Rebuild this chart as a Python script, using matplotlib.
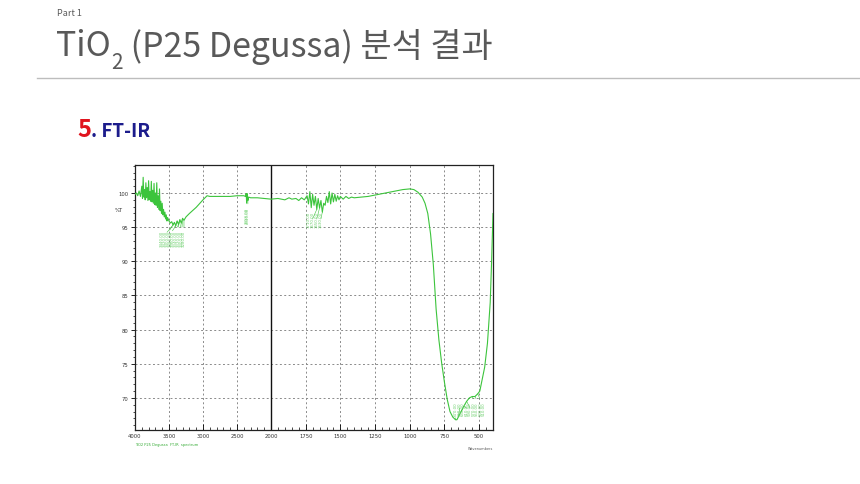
import numpy as np
import matplotlib
matplotlib.use("Agg")
import matplotlib.pyplot as plt
from matplotlib.ticker import FixedLocator, NullFormatter

# ---------------- data ----------------
wn_high = [4000, 3980, 3960, 3940, 3920, 3900, 3890, 3880, 3870, 3860, 3850, 3840,
           3830, 3820, 3810, 3800, 3790, 3780, 3770, 3760, 3750, 3740, 3730, 3720,
           3710, 3700, 3690, 3680, 3670, 3660, 3650, 3640, 3630, 3620, 3610, 3600,
           3590, 3580, 3570, 3560, 3550, 3540, 3530, 3520, 3500, 3480, 3460, 3440,
           3420, 3400, 3380, 3360, 3340, 3320, 3300, 3280, 3250, 3200, 3100, 3000,
           2940, 2900, 2800, 2700, 2600, 2500, 2400, 2375, 2365, 2358, 2350, 2340,
           2330, 2300, 2200, 2100]
t_high = [99.8, 100.0, 99.6, 100.3, 99.5, 101.0, 99.2, 102.3, 99.4, 100.5, 99.0, 101.5,
          99.3, 100.8, 98.9, 101.8, 99.0, 100.2, 98.8, 101.7, 98.7, 100.4, 98.5, 101.4,
          98.3, 100.0, 98.2, 101.5, 97.9, 99.6, 97.6, 100.6, 97.4, 98.8, 97.0, 98.5,
          96.8, 97.6, 96.5, 97.2, 96.2, 96.8, 95.9, 96.4, 95.9, 95.6, 95.8, 95.3,
          95.7, 95.2, 95.9, 95.4, 96.1, 95.6, 96.3, 96.0, 96.5, 97.0, 97.9, 99.0,
          99.6, 99.5, 99.5, 99.5, 99.5, 99.6, 99.6, 99.5, 99.9, 98.6, 99.9, 98.9,
          99.4, 99.3, 99.3, 99.2]
wn_low = [2000, 1950, 1900, 1870, 1850, 1820, 1800, 1780, 1760, 1740, 1730, 1720,
          1710, 1700, 1690, 1680, 1670, 1660, 1650, 1640, 1630, 1620, 1610, 1600,
          1590, 1580, 1570, 1560, 1550, 1540, 1530, 1520, 1510, 1500, 1480, 1460,
          1440, 1420, 1400, 1350, 1300, 1250, 1200, 1150, 1100, 1050, 1000, 970,
          940, 910, 890, 870, 850, 830, 810, 790, 770, 750, 730, 710, 690, 670, 660,
          650, 630, 610, 590, 570, 550, 530, 510, 495, 480, 460, 440, 420, 410, 400]
t_low = [99.1, 99.2, 99.0, 99.3, 99.1, 99.2, 98.9, 99.3, 99.0, 99.6, 98.4, 100.2,
         97.9, 99.8, 98.2, 99.5, 97.6, 99.2, 97.8, 98.9, 97.2, 98.5, 98.2, 99.5,
         98.6, 100.2, 98.4, 100.0, 98.7, 99.8, 98.8, 99.6, 99.0, 99.5, 99.1, 99.5,
         99.2, 99.4, 99.3, 99.4, 99.5, 99.7, 99.9, 100.1, 100.3, 100.5, 100.6, 100.5,
         100.1, 99.4, 98.5, 97.0, 94.0, 89.5, 83.0, 78.5, 75.1, 72.3, 69.8, 68.0, 67.2,
         66.8, 66.8, 67.2, 68.0, 68.8, 69.5, 70.0, 70.2, 70.2, 70.6, 71.0, 72.5, 74.5,
         78.0, 84.0, 90.0, 97.0]

x_ticks = [4000, 3500, 3000, 2500, 2000, 1750, 1500, 1250, 1000, 750, 500]
y_ticks = [70, 75, 80, 85, 90, 95, 100]

# peak labels
peaks_a = [3440, 3420, 3400, 3380, 3360, 3340, 3320, 3300, 3280]
peaks_b = [2358, 2340]
peaks_c = [1710, 1670, 1650, 1630]
peaks_d = [670, 650, 630, 610, 590, 570, 550, 530, 510]

GREEN = "#3cc43c"
LGREEN = "#6fd06f"

# ---------------- broken wavenumber scale ----------------
K1 = 136.0 / 2000.0   # px per unit 4000-2000
K2 = 222.0 / 1600.0   # px per unit 2000-400


def fwd(w):
    w = np.asarray(w, dtype=float)
    return np.where(w <= 2000, w * K2, 2000 * K2 + (w - 2000) * K1)


def inv(u):
    u = np.asarray(u, dtype=float)
    return np.where(u <= 2000 * K2, u / K2, 2000 + (u - 2000 * K2) / K1)


fig = plt.figure(figsize=(8.6, 4.85), dpi=100)
FAM = ["Noto Sans CJK KR", "DejaVu Sans"]

# ---------------- slide header ----------------
fig.text(57 / 860, 1 - 14 / 485, "Part 1", fontsize=6.5, color="#595959",
         family=FAM, va="center", ha="left")

fig.canvas.draw()
renderer = fig.canvas.get_renderer()
ty = 1 - 47 / 485
t1 = fig.text(56 / 860, ty, "TiO", fontsize=24.4, color="#595959", family=FAM,
              va="center", ha="left", fontweight="light")
bb = t1.get_window_extent(renderer)
t2 = fig.text(bb.x1 / 860 + 0.001, ty - 0.032, "2", fontsize=15, color="#595959",
              family=FAM, va="center", ha="left", fontweight="light")
bb2 = t2.get_window_extent(renderer)
fig.text(bb2.x1 / 860, ty, " (P25 Degussa) 분석 결과", fontsize=24.4, color="#595959",
         family=FAM, va="center", ha="left", fontweight="light")

fig.add_artist(plt.Line2D([37 / 860, 1.0], [1 - 79 / 485, 1 - 79 / 485],
                          color="#bdbdbd", lw=1.0, transform=fig.transFigure))

t5 = fig.text(77 / 860, 1 - 130 / 485, "5", fontsize=17, color="#e0141e",
              fontweight="bold", family=FAM, va="center", ha="left")
b5 = t5.get_window_extent(renderer)
fig.text(b5.x1 / 860, 1 - 132 / 485, ". FT-IR", fontsize=13.5, color="#1c1c8c",
         fontweight="bold", family=FAM, va="center", ha="left")

# ---------------- spectrum axes ----------------
ax = fig.add_axes([135 / 860, (485 - 431) / 485, (493 - 135) / 860, (431 - 166) / 485])
ax.set_xscale("function", functions=(fwd, inv))
ax.set_xlim(4000, 400)
ax.set_ylim(65.3, 104.1)

ax.plot(wn_high + wn_low, t_high + t_low, color=GREEN, lw=0.8, zorder=3)

ax.xaxis.set_major_locator(FixedLocator(x_ticks))
minor_x = [w for w in range(4000, 2000, -100)] + [w for w in range(2000, 399, -50)]
ax.xaxis.set_minor_locator(FixedLocator(minor_x))
ax.xaxis.set_minor_formatter(NullFormatter())
ax.set_xticklabels([str(v) for v in x_ticks])
ax.yaxis.set_major_locator(FixedLocator(y_ticks))
ax.yaxis.set_minor_locator(FixedLocator(list(range(66, 105))))
ax.yaxis.set_minor_formatter(NullFormatter())
ax.set_yticklabels([str(v) for v in y_ticks])

ax.tick_params(axis="x", which="major", direction="in", length=4, width=0.6,
               labelsize=3.8, pad=2, labelcolor="#333333")
ax.tick_params(axis="x", which="minor", direction="in", length=2.5, width=0.5)
ax.tick_params(axis="y", which="major", direction="out", length=3, width=0.6,
               labelsize=3.8, pad=2, labelcolor="#333333")
ax.tick_params(axis="y", which="minor", direction="out", length=1.8, width=0.5)

ax.grid(True, which="major", linestyle=(0, (2, 2.5)), color="#8a8a8a", lw=0.7)
for s in ax.spines.values():
    s.set_linewidth(0.9)
    s.set_color("#222222")
ax.axvline(2000, color="#111111", lw=1.0, zorder=2)

ax.text(-0.045, 97.6, "%T", transform=ax.get_yaxis_transform(), fontsize=3.8,
        color="#333333", ha="center", va="center")
ax.text(1.0, -0.06, "Wavenumbers", transform=ax.transAxes, fontsize=2.5,
        color="#555555", ha="right", va="top")
ax.text(0.0, -0.045, "TiO2 P25 Degussa  FT-IR  spectrum", transform=ax.transAxes,
        fontsize=2.6, color="#33aa33", ha="left", va="top")


def label_peaks(peaks, lab_x, top_y, spec_w, spec_t):
    for p, lx in zip(peaks, lab_x):
        ty_ = float(np.interp(p, spec_w[::-1], spec_t[::-1]))
        ax.annotate(f"{p:.2f}", xy=(p, ty_), xytext=(lx, top_y),
                    fontsize=2.8, color=LGREEN, rotation=90, ha="center", va="top",
                    arrowprops=dict(arrowstyle="-", color=GREEN, lw=0.4,
                                    shrinkA=0, shrinkB=0), zorder=4)


label_peaks(peaks_a, [3600, 3560, 3520, 3480, 3440, 3400, 3360, 3320, 3280],
            94.6, wn_high, t_high)
label_peaks(peaks_b, [2358, 2340], 98.0, wn_high, t_high)
label_peaks(peaks_c, [1730, 1700, 1670, 1640], 97.4, wn_low, t_low)
label_peaks(peaks_d, [670, 640, 615, 590, 565, 540, 515, 490, 465],
            69.5, wn_low, t_low)

fig.savefig("out.png", dpi=100)
